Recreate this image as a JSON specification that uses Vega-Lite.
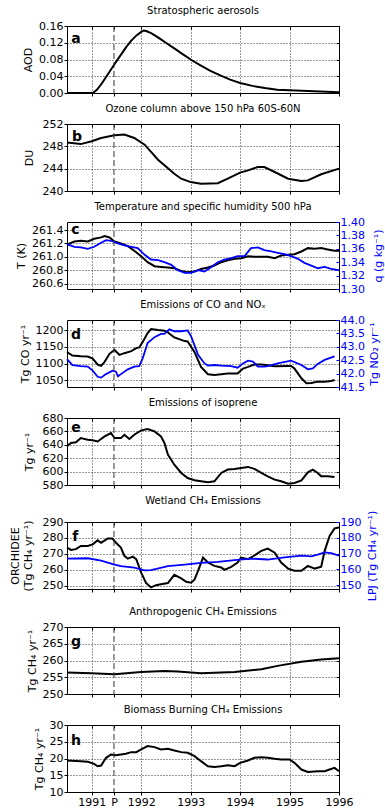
{
  "$schema": "https://vega.github.io/schema/vega-lite/v6.json",
  "background": "white",
  "padding": {"left": 8, "right": 2, "top": 5, "bottom": 0},
  "spacing": 4,
  "config": {
    "font": "DejaVu Sans",
    "view": {"stroke": "black", "strokeWidth": 1},
    "title": {"font": "DejaVu Sans", "fontSize": 10, "fontWeight": "normal", "color": "black", "offset": 4, "frame": "group"},
    "axis": {
      "labelFont": "DejaVu Sans", "labelFontSize": 11, "labelColor": "black",
      "titleFont": "DejaVu Sans", "titleFontSize": 11, "titleFontWeight": "normal", "titleColor": "black",
      "tickColor": "black", "tickSize": 3, "tickWidth": 1, "labelPadding": 1, "titlePadding": 5,
      "domain": false,
      "gridColor": "black", "gridDash": [1, 2], "gridOpacity": 1, "gridWidth": 0.8,
      "labelFlush": false, "labelOverlap": false
    }
  },
  "datasets": {
    "a": [{"x":1990.5,"v":0},{"x":1990.9,"v":0},{"x":1991.02,"v":0},{"x":1991.1,"v":0.007},{"x":1991.2,"v":0.022},{"x":1991.3,"v":0.04},{"x":1991.4,"v":0.058},{"x":1991.5,"v":0.076},{"x":1991.6,"v":0.093},{"x":1991.7,"v":0.11},{"x":1991.8,"v":0.125},{"x":1991.9,"v":0.137},{"x":1992.0,"v":0.146},{"x":1992.05,"v":0.149},{"x":1992.1,"v":0.148},{"x":1992.2,"v":0.143},{"x":1992.3,"v":0.136},{"x":1992.4,"v":0.128},{"x":1992.5,"v":0.12},{"x":1992.6,"v":0.112},{"x":1992.7,"v":0.104},{"x":1992.8,"v":0.096},{"x":1992.9,"v":0.088},{"x":1993.0,"v":0.08},{"x":1993.2,"v":0.066},{"x":1993.4,"v":0.053},{"x":1993.6,"v":0.042},{"x":1993.8,"v":0.032},{"x":1994.0,"v":0.024},{"x":1994.25,"v":0.017},{"x":1994.5,"v":0.012},{"x":1994.75,"v":0.008},{"x":1995.0,"v":0.0065},{"x":1995.5,"v":0.004},{"x":1996.0,"v":0.002}],
    "b": [{"x":1990.5,"v":248.7},{"x":1990.78,"v":248.4},{"x":1991.0,"v":248.9},{"x":1991.19,"v":249.5},{"x":1991.46,"v":250.0},{"x":1991.66,"v":250.1},{"x":1991.86,"v":249.5},{"x":1992.07,"v":248.3},{"x":1992.2,"v":247.0},{"x":1992.34,"v":245.6},{"x":1992.5,"v":244.4},{"x":1992.67,"v":243.1},{"x":1992.81,"v":242.2},{"x":1993.0,"v":241.6},{"x":1993.21,"v":241.3},{"x":1993.55,"v":241.4},{"x":1993.75,"v":242.2},{"x":1994.0,"v":243.3},{"x":1994.16,"v":243.7},{"x":1994.36,"v":244.3},{"x":1994.49,"v":244.3},{"x":1994.7,"v":243.4},{"x":1994.97,"v":242.2},{"x":1995.24,"v":241.8},{"x":1995.37,"v":241.9},{"x":1995.64,"v":243.0},{"x":1996.0,"v":244.0}],
    "cT": [{"x":1990.5,"v":261.18},{"x":1990.65,"v":261.23},{"x":1990.78,"v":261.24},{"x":1990.92,"v":261.23},{"x":1991.05,"v":261.27},{"x":1991.19,"v":261.29},{"x":1991.26,"v":261.31},{"x":1991.36,"v":261.29},{"x":1991.46,"v":261.23},{"x":1991.59,"v":261.2},{"x":1991.73,"v":261.16},{"x":1991.86,"v":261.09},{"x":1992.0,"v":261.01},{"x":1992.13,"v":260.92},{"x":1992.27,"v":260.86},{"x":1992.4,"v":260.85},{"x":1992.54,"v":260.84},{"x":1992.67,"v":260.83},{"x":1992.81,"v":260.79},{"x":1992.94,"v":260.77},{"x":1993.08,"v":260.78},{"x":1993.21,"v":260.82},{"x":1993.35,"v":260.84},{"x":1993.48,"v":260.87},{"x":1993.62,"v":260.92},{"x":1993.75,"v":260.95},{"x":1993.89,"v":260.97},{"x":1994.02,"v":260.98},{"x":1994.16,"v":261.01},{"x":1994.29,"v":261.0},{"x":1994.43,"v":261.0},{"x":1994.56,"v":261.0},{"x":1994.7,"v":260.98},{"x":1994.83,"v":261.02},{"x":1994.97,"v":261.03},{"x":1995.1,"v":261.04},{"x":1995.24,"v":261.08},{"x":1995.37,"v":261.13},{"x":1995.51,"v":261.12},{"x":1995.64,"v":261.13},{"x":1995.77,"v":261.11},{"x":1995.91,"v":261.09},{"x":1996.0,"v":261.09}],
    "cq": [{"x":1990.5,"v":1.367},{"x":1990.65,"v":1.363},{"x":1990.78,"v":1.362},{"x":1990.92,"v":1.36},{"x":1991.05,"v":1.363},{"x":1991.19,"v":1.369},{"x":1991.29,"v":1.373},{"x":1991.39,"v":1.372},{"x":1991.53,"v":1.368},{"x":1991.66,"v":1.365},{"x":1991.8,"v":1.363},{"x":1991.93,"v":1.361},{"x":1992.07,"v":1.351},{"x":1992.2,"v":1.344},{"x":1992.34,"v":1.343},{"x":1992.47,"v":1.34},{"x":1992.61,"v":1.336},{"x":1992.74,"v":1.328},{"x":1992.88,"v":1.324},{"x":1993.01,"v":1.324},{"x":1993.15,"v":1.328},{"x":1993.28,"v":1.326},{"x":1993.42,"v":1.333},{"x":1993.55,"v":1.34},{"x":1993.68,"v":1.344},{"x":1993.82,"v":1.346},{"x":1993.95,"v":1.349},{"x":1994.09,"v":1.349},{"x":1994.22,"v":1.361},{"x":1994.36,"v":1.362},{"x":1994.49,"v":1.358},{"x":1994.63,"v":1.356},{"x":1994.76,"v":1.354},{"x":1994.9,"v":1.352},{"x":1995.03,"v":1.349},{"x":1995.17,"v":1.345},{"x":1995.3,"v":1.339},{"x":1995.44,"v":1.335},{"x":1995.57,"v":1.331},{"x":1995.71,"v":1.333},{"x":1995.84,"v":1.33},{"x":1996.0,"v":1.328}],
    "dCO": [{"x":1990.5,"v":1134},{"x":1990.61,"v":1124},{"x":1990.78,"v":1122},{"x":1990.92,"v":1121},{"x":1991.02,"v":1115},{"x":1991.12,"v":1097},{"x":1991.19,"v":1093},{"x":1991.26,"v":1105},{"x":1991.36,"v":1129},{"x":1991.46,"v":1141},{"x":1991.56,"v":1126},{"x":1991.66,"v":1131},{"x":1991.8,"v":1137},{"x":1991.9,"v":1146},{"x":1991.96,"v":1148},{"x":1992.03,"v":1164},{"x":1992.13,"v":1191},{"x":1992.2,"v":1203},{"x":1992.34,"v":1200},{"x":1992.47,"v":1198},{"x":1992.54,"v":1193},{"x":1992.67,"v":1178},{"x":1992.88,"v":1167},{"x":1992.94,"v":1166},{"x":1993.08,"v":1134},{"x":1993.21,"v":1090},{"x":1993.35,"v":1068},{"x":1993.48,"v":1066},{"x":1993.62,"v":1068},{"x":1993.75,"v":1070},{"x":1993.95,"v":1070},{"x":1994.06,"v":1085},{"x":1994.16,"v":1090},{"x":1994.29,"v":1097},{"x":1994.43,"v":1097},{"x":1994.56,"v":1095},{"x":1994.7,"v":1092},{"x":1994.97,"v":1093},{"x":1995.03,"v":1093},{"x":1995.1,"v":1085},{"x":1995.24,"v":1056},{"x":1995.34,"v":1041},{"x":1995.44,"v":1042},{"x":1995.57,"v":1046},{"x":1995.71,"v":1046},{"x":1995.84,"v":1048},{"x":1995.91,"v":1051}],
    "dNO": [{"x":1990.5,"v":42.54},{"x":1990.61,"v":42.32},{"x":1990.78,"v":42.28},{"x":1990.92,"v":42.26},{"x":1991.02,"v":42.11},{"x":1991.12,"v":41.88},{"x":1991.19,"v":41.85},{"x":1991.29,"v":41.98},{"x":1991.42,"v":42.11},{"x":1991.49,"v":42.07},{"x":1991.53,"v":41.9},{"x":1991.59,"v":41.98},{"x":1991.73,"v":42.16},{"x":1991.86,"v":42.26},{"x":1991.96,"v":42.28},{"x":1992.03,"v":42.57},{"x":1992.13,"v":43.14},{"x":1992.27,"v":43.36},{"x":1992.4,"v":43.48},{"x":1992.47,"v":43.48},{"x":1992.57,"v":43.65},{"x":1992.67,"v":43.58},{"x":1992.81,"v":43.58},{"x":1992.94,"v":43.61},{"x":1993.01,"v":43.39},{"x":1993.15,"v":42.7},{"x":1993.28,"v":42.38},{"x":1993.35,"v":42.3},{"x":1993.48,"v":42.32},{"x":1993.62,"v":42.3},{"x":1993.82,"v":42.28},{"x":1993.95,"v":42.22},{"x":1994.06,"v":42.38},{"x":1994.16,"v":42.48},{"x":1994.26,"v":42.45},{"x":1994.36,"v":42.26},{"x":1994.49,"v":42.26},{"x":1994.56,"v":42.28},{"x":1994.76,"v":42.38},{"x":1995.03,"v":42.48},{"x":1995.24,"v":42.32},{"x":1995.37,"v":42.16},{"x":1995.47,"v":42.19},{"x":1995.57,"v":42.36},{"x":1995.71,"v":42.51},{"x":1995.91,"v":42.64}],
    "e": [{"x":1990.5,"v":637.7},{"x":1990.58,"v":642.7},{"x":1990.68,"v":643.7},{"x":1990.78,"v":650},{"x":1990.92,"v":647.7},{"x":1991.02,"v":646.7},{"x":1991.12,"v":645},{"x":1991.26,"v":652.6},{"x":1991.39,"v":657.6},{"x":1991.46,"v":650},{"x":1991.59,"v":650},{"x":1991.66,"v":655},{"x":1991.76,"v":648.7},{"x":1991.86,"v":655},{"x":1992.0,"v":661.6},{"x":1992.13,"v":663.6},{"x":1992.27,"v":660},{"x":1992.4,"v":652.6},{"x":1992.47,"v":642.7},{"x":1992.54,"v":625.3},{"x":1992.67,"v":610.3},{"x":1992.81,"v":598},{"x":1992.94,"v":590.4},{"x":1993.08,"v":587},{"x":1993.21,"v":585.5},{"x":1993.35,"v":584},{"x":1993.48,"v":585.5},{"x":1993.62,"v":598},{"x":1993.75,"v":603},{"x":1993.89,"v":604},{"x":1994.02,"v":605.4},{"x":1994.16,"v":607},{"x":1994.29,"v":604},{"x":1994.43,"v":598},{"x":1994.56,"v":593},{"x":1994.7,"v":588},{"x":1994.83,"v":585.5},{"x":1994.97,"v":582},{"x":1995.1,"v":583},{"x":1995.24,"v":587},{"x":1995.37,"v":599},{"x":1995.47,"v":603},{"x":1995.57,"v":598},{"x":1995.64,"v":593},{"x":1995.77,"v":593},{"x":1995.91,"v":592}],
    "fO": [{"x":1990.5,"v":274},{"x":1990.58,"v":272.5},{"x":1990.68,"v":273},{"x":1990.78,"v":275},{"x":1990.92,"v":275},{"x":1991.02,"v":276},{"x":1991.12,"v":278.5},{"x":1991.19,"v":277},{"x":1991.32,"v":279.6},{"x":1991.42,"v":279.6},{"x":1991.49,"v":277},{"x":1991.59,"v":274},{"x":1991.66,"v":268.8},{"x":1991.73,"v":267},{"x":1991.83,"v":268.3},{"x":1991.9,"v":266.7},{"x":1992.0,"v":258.3},{"x":1992.1,"v":251.7},{"x":1992.2,"v":249},{"x":1992.3,"v":250.4},{"x":1992.4,"v":251},{"x":1992.54,"v":251.7},{"x":1992.67,"v":256.9},{"x":1992.81,"v":254.6},{"x":1992.91,"v":252.5},{"x":1993.01,"v":252},{"x":1993.08,"v":254},{"x":1993.15,"v":259.4},{"x":1993.25,"v":267.7},{"x":1993.35,"v":264.6},{"x":1993.48,"v":262.5},{"x":1993.62,"v":261.5},{"x":1993.68,"v":260},{"x":1993.82,"v":261.9},{"x":1993.95,"v":264.6},{"x":1994.02,"v":267.7},{"x":1994.16,"v":266.7},{"x":1994.29,"v":269},{"x":1994.43,"v":271.9},{"x":1994.56,"v":273.3},{"x":1994.7,"v":270.8},{"x":1994.83,"v":264.6},{"x":1994.97,"v":260.8},{"x":1995.1,"v":259.4},{"x":1995.24,"v":259.4},{"x":1995.37,"v":262.5},{"x":1995.51,"v":260.8},{"x":1995.64,"v":262},{"x":1995.71,"v":271.9},{"x":1995.81,"v":281.3},{"x":1995.91,"v":286},{"x":1996.0,"v":286.5}],
    "fL": [{"x":1990.5,"v":166.8},{"x":1990.92,"v":167},{"x":1991.19,"v":165.5},{"x":1991.46,"v":163},{"x":1991.59,"v":162},{"x":1991.86,"v":161},{"x":1992.07,"v":159.3},{"x":1992.2,"v":159.5},{"x":1992.54,"v":162},{"x":1992.88,"v":163},{"x":1993.21,"v":164.1},{"x":1993.55,"v":164.7},{"x":1993.89,"v":165.8},{"x":1994.22,"v":166.8},{"x":1994.56,"v":166.2},{"x":1994.9,"v":167.6},{"x":1995.24,"v":168.7},{"x":1995.44,"v":168.2},{"x":1995.57,"v":169.3},{"x":1995.71,"v":170.7},{"x":1995.84,"v":170.3},{"x":1996.0,"v":168.7}],
    "g": [{"x":1990.5,"v":256.4},{"x":1990.99,"v":256.2},{"x":1991.46,"v":255.9},{"x":1992.0,"v":256.6},{"x":1992.47,"v":256.9},{"x":1992.74,"v":256.7},{"x":1993.21,"v":256.2},{"x":1993.89,"v":256.6},{"x":1994.43,"v":257.4},{"x":1994.76,"v":258.4},{"x":1995.24,"v":259.6},{"x":1995.64,"v":260.3},{"x":1996.0,"v":260.7}],
    "h": [{"x":1990.5,"v":19.4},{"x":1990.78,"v":19.2},{"x":1990.92,"v":19.0},{"x":1991.05,"v":18.4},{"x":1991.12,"v":17.7},{"x":1991.19,"v":17.9},{"x":1991.29,"v":20.2},{"x":1991.39,"v":21.2},{"x":1991.49,"v":21.0},{"x":1991.59,"v":21.2},{"x":1991.69,"v":21.4},{"x":1991.8,"v":21.9},{"x":1991.9,"v":21.9},{"x":1992.0,"v":22.7},{"x":1992.13,"v":23.7},{"x":1992.27,"v":23.4},{"x":1992.4,"v":22.7},{"x":1992.54,"v":22.9},{"x":1992.67,"v":22.4},{"x":1992.81,"v":21.9},{"x":1992.94,"v":21.7},{"x":1993.08,"v":20.7},{"x":1993.21,"v":19.2},{"x":1993.35,"v":17.7},{"x":1993.48,"v":17.5},{"x":1993.62,"v":17.7},{"x":1993.75,"v":18.0},{"x":1993.89,"v":17.7},{"x":1994.0,"v":18.7},{"x":1994.16,"v":19.4},{"x":1994.29,"v":20.2},{"x":1994.43,"v":20.4},{"x":1994.56,"v":20.2},{"x":1994.7,"v":19.9},{"x":1994.83,"v":19.7},{"x":1995.0,"v":19.7},{"x":1995.1,"v":18.7},{"x":1995.24,"v":16.7},{"x":1995.37,"v":16.0},{"x":1995.57,"v":16.2},{"x":1995.71,"v":16.2},{"x":1995.81,"v":16.7},{"x":1995.91,"v":17.2},{"x":1996.0,"v":16.2}]
  },
  "vconcat": [
    {
      "title": "Stratospheric aerosols", "width": 272, "height": 67,
      "resolve": {"axis": {"x": "independent", "y": "independent"}},
      "layer": [
        {"data": {"name": "a"}, "mark": {"type": "line", "color": "black", "strokeWidth": 2},
         "encoding": {
           "x": {"field": "x", "type": "quantitative", "scale": {"domain": [1990.5, 1996], "nice": false, "zero": false}, "axis": {"values": [1991, 1991.45, 1992, 1993, 1994, 1995, 1996], "labels": false, "title": null, "gridOpacity": {"condition": {"test": "datum.value == 1991.45", "value": 0}, "value": 1}}},
           "y": {"field": "v", "type": "quantitative", "scale": {"domain": [0, 0.16], "nice": false, "zero": false}, "axis": {"title": "AOD", "values": [0, 0.04, 0.08, 0.12, 0.16], "format": ".2f"}}}},
        {"data": {"values": [{}]}, "mark": {"type": "rule", "color": "#333333", "strokeDash": [6, 3], "strokeWidth": 1},
         "encoding": {"x": {"datum": 1991.45, "type": "quantitative", "scale": {"domain": [1990.5, 1996], "nice": false, "zero": false}, "axis": {"orient": "top", "values": [1991, 1991.45, 1992, 1993, 1994, 1995, 1996], "labels": false, "title": null, "grid": false, "tickSize": -3}}}},
        {"data": {"values": [{}]}, "mark": {"type": "text", "text": "a", "fontWeight": "bold", "fontSize": 14, "color": "black"},
         "encoding": {"x": {"datum": 1990.68, "type": "quantitative", "scale": {"domain": [1990.5, 1996], "nice": false, "zero": false}, "axis": null},
           "y": {"datum": 0.129, "type": "quantitative", "scale": {"domain": [0, 0.16], "nice": false, "zero": false}, "axis": {"orient": "right", "values": [0, 0.04, 0.08, 0.12, 0.16], "labels": false, "title": null, "grid": false, "tickSize": -3}}}}
      ]
    },
    {
      "title": "Ozone column above 150 hPa 60S-60N", "width": 272, "height": 67,
      "resolve": {"axis": {"x": "independent", "y": "independent"}},
      "layer": [
        {"data": {"name": "b"}, "mark": {"type": "line", "color": "black", "strokeWidth": 2},
         "encoding": {
           "x": {"field": "x", "type": "quantitative", "scale": {"domain": [1990.5, 1996], "nice": false, "zero": false}, "axis": {"values": [1991, 1991.45, 1992, 1993, 1994, 1995, 1996], "labels": false, "title": null, "gridOpacity": {"condition": {"test": "datum.value == 1991.45", "value": 0}, "value": 1}}},
           "y": {"field": "v", "type": "quantitative", "scale": {"domain": [240, 252], "nice": false, "zero": false}, "axis": {"title": "DU", "titlePadding": 8, "values": [240, 244, 248, 252], "format": "d"}}}},
        {"data": {"values": [{}]}, "mark": {"type": "rule", "color": "#333333", "strokeDash": [6, 3], "strokeWidth": 1},
         "encoding": {"x": {"datum": 1991.45, "type": "quantitative", "scale": {"domain": [1990.5, 1996], "nice": false, "zero": false}, "axis": {"orient": "top", "values": [1991, 1991.45, 1992, 1993, 1994, 1995, 1996], "labels": false, "title": null, "grid": false, "tickSize": -3}}}},
        {"data": {"values": [{}]}, "mark": {"type": "text", "text": "b", "fontWeight": "bold", "fontSize": 14, "color": "black"},
         "encoding": {"x": {"datum": 1990.7, "type": "quantitative", "scale": {"domain": [1990.5, 1996], "nice": false, "zero": false}, "axis": null},
           "y": {"datum": 249.6, "type": "quantitative", "scale": {"domain": [240, 252], "nice": false, "zero": false}, "axis": {"orient": "right", "values": [240, 244, 248, 252], "labels": false, "title": null, "grid": false, "tickSize": -3}}}}
      ]
    },
    {
      "title": "Temperature and specific humidity 500 hPa", "width": 272, "height": 67,
      "resolve": {"scale": {"y": "independent"}, "axis": {"x": "independent", "y": "independent"}},
      "layer": [
        {"data": {"name": "cT"}, "mark": {"type": "line", "color": "black", "strokeWidth": 2},
         "encoding": {
           "x": {"field": "x", "type": "quantitative", "scale": {"domain": [1990.5, 1996], "nice": false, "zero": false}, "axis": {"values": [1991, 1991.45, 1992, 1993, 1994, 1995, 1996], "labels": false, "title": null, "gridOpacity": {"condition": {"test": "datum.value == 1991.45", "value": 0}, "value": 1}}},
           "y": {"field": "v", "type": "quantitative", "scale": {"domain": [260.52, 261.52], "nice": false, "zero": false}, "axis": {"title": "T (K)", "values": [260.6, 260.8, 261.0, 261.2, 261.4], "format": ".1f"}}}},
        {"data": {"name": "cq"}, "mark": {"type": "line", "color": "#0000ff", "strokeWidth": 1.8},
         "encoding": {
           "x": {"field": "x", "type": "quantitative", "scale": {"domain": [1990.5, 1996], "nice": false, "zero": false}, "axis": null},
           "y": {"field": "v", "type": "quantitative", "scale": {"domain": [1.3, 1.4], "nice": false, "zero": false}, "axis": {"orient": "right", "title": "q (g kg⁻¹)", "titleAngle": 270, "titleBaseline": "top", "titlePadding": 8, "titleColor": "#0000ff", "labelColor": "#0000ff", "tickColor": "#0000ff", "tickSize": -3, "labelPadding": 4, "values": [1.3, 1.32, 1.34, 1.36, 1.38, 1.4], "format": ".2f", "grid": false}}}},
        {"data": {"values": [{}]}, "mark": {"type": "rule", "color": "#333333", "strokeDash": [6, 3], "strokeWidth": 1},
         "encoding": {"x": {"datum": 1991.45, "type": "quantitative", "scale": {"domain": [1990.5, 1996], "nice": false, "zero": false}, "axis": {"orient": "top", "values": [1991, 1991.45, 1992, 1993, 1994, 1995, 1996], "labels": false, "title": null, "grid": false, "tickSize": -3}}}},
        {"data": {"values": [{}]}, "mark": {"type": "text", "text": "c", "fontWeight": "bold", "fontSize": 14, "color": "black"},
         "encoding": {"x": {"datum": 1990.67, "type": "quantitative", "scale": {"domain": [1990.5, 1996], "nice": false, "zero": false}, "axis": null},
           "y": {"datum": 261.4, "type": "quantitative", "scale": {"domain": [260.52, 261.52], "nice": false, "zero": false}, "axis": null}}}
      ]
    },
    {
      "title": "Emissions of CO and NOₓ", "width": 272, "height": 67,
      "resolve": {"scale": {"y": "independent"}, "axis": {"x": "independent", "y": "independent"}},
      "layer": [
        {"data": {"name": "dCO"}, "mark": {"type": "line", "color": "black", "strokeWidth": 2},
         "encoding": {
           "x": {"field": "x", "type": "quantitative", "scale": {"domain": [1990.5, 1996], "nice": false, "zero": false}, "axis": {"values": [1991, 1991.45, 1992, 1993, 1994, 1995, 1996], "labels": false, "title": null, "gridOpacity": {"condition": {"test": "datum.value == 1991.45", "value": 0}, "value": 1}}},
           "y": {"field": "v", "type": "quantitative", "scale": {"domain": [1030, 1230], "nice": false, "zero": false}, "axis": {"title": "Tg CO yr⁻¹", "values": [1050, 1100, 1150, 1200], "format": "d"}}}},
        {"data": {"name": "dNO"}, "mark": {"type": "line", "color": "#0000ff", "strokeWidth": 1.8},
         "encoding": {
           "x": {"field": "x", "type": "quantitative", "scale": {"domain": [1990.5, 1996], "nice": false, "zero": false}, "axis": null},
           "y": {"field": "v", "type": "quantitative", "scale": {"domain": [41.5, 44.0], "nice": false, "zero": false}, "axis": {"orient": "right", "title": "Tg NO₂ yr⁻¹", "titleAngle": 270, "titleBaseline": "top", "titlePadding": 4, "titleColor": "#0000ff", "labelColor": "#0000ff", "tickColor": "#0000ff", "tickSize": -3, "labelPadding": 4, "values": [41.5, 42.0, 42.5, 43.0, 43.5, 44.0], "format": ".1f", "grid": false}}}},
        {"data": {"values": [{}]}, "mark": {"type": "rule", "color": "#333333", "strokeDash": [6, 3], "strokeWidth": 1},
         "encoding": {"x": {"datum": 1991.45, "type": "quantitative", "scale": {"domain": [1990.5, 1996], "nice": false, "zero": false}, "axis": {"orient": "top", "values": [1991, 1991.45, 1992, 1993, 1994, 1995, 1996], "labels": false, "title": null, "grid": false, "tickSize": -3}}}},
        {"data": {"values": [{}]}, "mark": {"type": "text", "text": "d", "fontWeight": "bold", "fontSize": 14, "color": "black"},
         "encoding": {"x": {"datum": 1990.68, "type": "quantitative", "scale": {"domain": [1990.5, 1996], "nice": false, "zero": false}, "axis": null},
           "y": {"datum": 1185, "type": "quantitative", "scale": {"domain": [1030, 1230], "nice": false, "zero": false}, "axis": null}}}
      ]
    },
    {
      "title": "Emissions of isoprene", "width": 272, "height": 67,
      "resolve": {"axis": {"x": "independent", "y": "independent"}},
      "layer": [
        {"data": {"name": "e"}, "mark": {"type": "line", "color": "black", "strokeWidth": 2},
         "encoding": {
           "x": {"field": "x", "type": "quantitative", "scale": {"domain": [1990.5, 1996], "nice": false, "zero": false}, "axis": {"values": [1991, 1991.45, 1992, 1993, 1994, 1995, 1996], "labels": false, "title": null, "gridOpacity": {"condition": {"test": "datum.value == 1991.45", "value": 0}, "value": 1}}},
           "y": {"field": "v", "type": "quantitative", "scale": {"domain": [580, 680], "nice": false, "zero": false}, "axis": {"title": "Tg yr⁻¹", "titlePadding": 8, "values": [580, 600, 620, 640, 660, 680], "format": "d"}}}},
        {"data": {"values": [{}]}, "mark": {"type": "rule", "color": "#333333", "strokeDash": [6, 3], "strokeWidth": 1},
         "encoding": {"x": {"datum": 1991.45, "type": "quantitative", "scale": {"domain": [1990.5, 1996], "nice": false, "zero": false}, "axis": {"orient": "top", "values": [1991, 1991.45, 1992, 1993, 1994, 1995, 1996], "labels": false, "title": null, "grid": false, "tickSize": -3}}}},
        {"data": {"values": [{}]}, "mark": {"type": "text", "text": "e", "fontWeight": "bold", "fontSize": 14, "color": "black"},
         "encoding": {"x": {"datum": 1990.68, "type": "quantitative", "scale": {"domain": [1990.5, 1996], "nice": false, "zero": false}, "axis": null},
           "y": {"datum": 665, "type": "quantitative", "scale": {"domain": [580, 680], "nice": false, "zero": false}, "axis": {"orient": "right", "values": [580, 600, 620, 640, 660, 680], "labels": false, "title": null, "grid": false, "tickSize": -3}}}}
      ]
    },
    {
      "title": "Wetland CH₄ Emissions", "width": 272, "height": 67,
      "resolve": {"scale": {"y": "independent"}, "axis": {"x": "independent", "y": "independent"}},
      "layer": [
        {"data": {"name": "fO"}, "mark": {"type": "line", "color": "black", "strokeWidth": 2},
         "encoding": {
           "x": {"field": "x", "type": "quantitative", "scale": {"domain": [1990.5, 1996], "nice": false, "zero": false}, "axis": {"values": [1991, 1991.45, 1992, 1993, 1994, 1995, 1996], "labels": false, "title": null, "gridOpacity": {"condition": {"test": "datum.value == 1991.45", "value": 0}, "value": 1}}},
           "y": {"field": "v", "type": "quantitative", "scale": {"domain": [248, 290], "nice": false, "zero": false}, "axis": {"title": ["ORCHIDEE", "(Tg CH₄ yr⁻¹)"], "titlePadding": 9, "values": [250, 260, 270, 280, 290], "format": "d"}}}},
        {"data": {"name": "fL"}, "mark": {"type": "line", "color": "#0000ff", "strokeWidth": 1.8},
         "encoding": {
           "x": {"field": "x", "type": "quantitative", "scale": {"domain": [1990.5, 1996], "nice": false, "zero": false}, "axis": null},
           "y": {"field": "v", "type": "quantitative", "scale": {"domain": [147.5, 190], "nice": false, "zero": false}, "axis": {"orient": "right", "title": "LPJ (Tg CH₄ yr⁻¹)", "titleAngle": 270, "titleBaseline": "top", "titlePadding": 6, "titleColor": "#0000ff", "labelColor": "#0000ff", "tickColor": "#0000ff", "tickSize": -3, "labelPadding": 4, "values": [150, 160, 170, 180, 190], "format": "d", "grid": false}}}},
        {"data": {"values": [{}]}, "mark": {"type": "rule", "color": "#333333", "strokeDash": [6, 3], "strokeWidth": 1},
         "encoding": {"x": {"datum": 1991.45, "type": "quantitative", "scale": {"domain": [1990.5, 1996], "nice": false, "zero": false}, "axis": {"orient": "top", "values": [1991, 1991.45, 1992, 1993, 1994, 1995, 1996], "labels": false, "title": null, "grid": false, "tickSize": -3}}}},
        {"data": {"values": [{}]}, "mark": {"type": "text", "text": "f", "fontWeight": "bold", "fontSize": 14, "color": "black"},
         "encoding": {"x": {"datum": 1990.67, "type": "quantitative", "scale": {"domain": [1990.5, 1996], "nice": false, "zero": false}, "axis": null},
           "y": {"datum": 280.8, "type": "quantitative", "scale": {"domain": [248, 290], "nice": false, "zero": false}, "axis": null}}}
      ]
    },
    {
      "title": "Anthropogenic CH₄ Emissions", "width": 272, "height": 67,
      "resolve": {"axis": {"x": "independent", "y": "independent"}},
      "layer": [
        {"data": {"name": "g"}, "mark": {"type": "line", "color": "black", "strokeWidth": 2},
         "encoding": {
           "x": {"field": "x", "type": "quantitative", "scale": {"domain": [1990.5, 1996], "nice": false, "zero": false}, "axis": {"values": [1991, 1991.45, 1992, 1993, 1994, 1995, 1996], "labels": false, "title": null, "gridOpacity": {"condition": {"test": "datum.value == 1991.45", "value": 0}, "value": 1}}},
           "y": {"field": "v", "type": "quantitative", "scale": {"domain": [250, 270], "nice": false, "zero": false}, "axis": {"title": "Tg CH₄ yr⁻¹", "values": [250, 255, 260, 265, 270], "format": "d"}}}},
        {"data": {"values": [{}]}, "mark": {"type": "rule", "color": "#333333", "strokeDash": [6, 3], "strokeWidth": 1},
         "encoding": {"x": {"datum": 1991.45, "type": "quantitative", "scale": {"domain": [1990.5, 1996], "nice": false, "zero": false}, "axis": {"orient": "top", "values": [1991, 1991.45, 1992, 1993, 1994, 1995, 1996], "labels": false, "title": null, "grid": false, "tickSize": -3}}}},
        {"data": {"values": [{}]}, "mark": {"type": "text", "text": "g", "fontWeight": "bold", "fontSize": 14, "color": "black"},
         "encoding": {"x": {"datum": 1990.68, "type": "quantitative", "scale": {"domain": [1990.5, 1996], "nice": false, "zero": false}, "axis": null},
           "y": {"datum": 265.6, "type": "quantitative", "scale": {"domain": [250, 270], "nice": false, "zero": false}, "axis": {"orient": "right", "values": [250, 255, 260, 265, 270], "labels": false, "title": null, "grid": false, "tickSize": -3}}}}
      ]
    },
    {
      "title": "Biomass Burning CH₄ Emissions", "width": 272, "height": 67,
      "resolve": {"axis": {"x": "independent", "y": "independent"}},
      "layer": [
        {"data": {"name": "h"}, "mark": {"type": "line", "color": "black", "strokeWidth": 2},
         "encoding": {
           "x": {"field": "x", "type": "quantitative", "scale": {"domain": [1990.5, 1996], "nice": false, "zero": false}, "axis": {"values": [1991, 1991.45, 1992, 1993, 1994, 1995, 1996], "labelExpr": "datum.value == 1991.45 ? 'P' : format(datum.value, 'd')", "title": null, "gridOpacity": {"condition": {"test": "datum.value == 1991.45", "value": 0}, "value": 1}}},
           "y": {"field": "v", "type": "quantitative", "scale": {"domain": [10, 30], "nice": false, "zero": false}, "axis": {"title": "Tg CH₄ yr⁻¹", "values": [10, 15, 20, 25, 30], "format": "d"}}}},
        {"data": {"values": [{}]}, "mark": {"type": "rule", "color": "#333333", "strokeDash": [6, 3], "strokeWidth": 1},
         "encoding": {"x": {"datum": 1991.45, "type": "quantitative", "scale": {"domain": [1990.5, 1996], "nice": false, "zero": false}, "axis": {"orient": "top", "values": [1991, 1991.45, 1992, 1993, 1994, 1995, 1996], "labels": false, "title": null, "grid": false, "tickSize": -3}}}},
        {"data": {"values": [{}]}, "mark": {"type": "text", "text": "h", "fontWeight": "bold", "fontSize": 14, "color": "black"},
         "encoding": {"x": {"datum": 1990.68, "type": "quantitative", "scale": {"domain": [1990.5, 1996], "nice": false, "zero": false}, "axis": null},
           "y": {"datum": 25.2, "type": "quantitative", "scale": {"domain": [10, 30], "nice": false, "zero": false}, "axis": {"orient": "right", "values": [10, 15, 20, 25, 30], "labels": false, "title": null, "grid": false, "tickSize": -3}}}}
      ]
    }
  ]
}
